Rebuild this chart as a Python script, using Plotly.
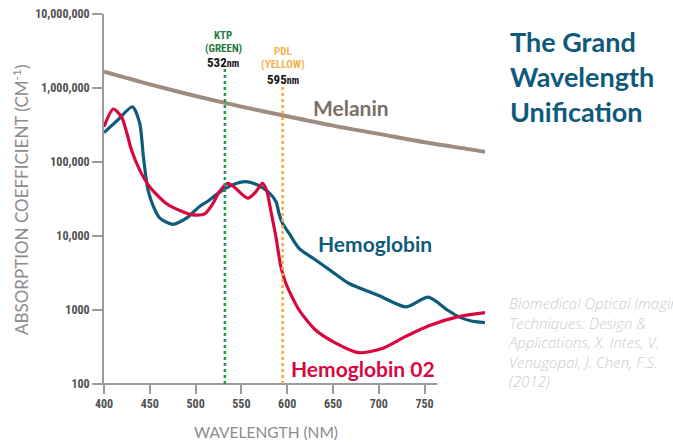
import plotly.graph_objects as go

# ---------------- data ----------------
melanin_wl = [400, 450, 500, 550, 600, 650, 700, 750, 800, 816]
melanin_val = [1660000, 1120000, 780000, 560000, 415000, 310000, 240000, 185000, 148000, 137000]

hb_wl = [400, 415, 431, 439, 443, 448, 454, 461, 475, 490, 504, 512, 526, 540, 555, 566, 579,
         588, 591, 595, 602, 613, 631, 649, 667, 700, 730, 754, 775, 787, 800, 816]
hb_val = [250000, 370000, 558000, 334000, 118000, 42000, 25000, 17400, 14400, 17400, 24900,
          28800, 38900, 49000, 54200, 50000, 39800, 28800, 20300, 14800, 10900, 6800, 4740,
          3300, 2300, 1570, 1100, 1490, 1000, 813, 716, 673]

hbo2_wl = [400, 410, 419, 425, 430, 439, 450, 468, 486, 497, 510, 519, 526, 535, 542, 557, 566,
           573, 577.5, 582, 587.7, 593, 598.5, 613, 631, 653, 678, 704, 729, 754, 787, 816]
hbo2_val = [300000, 520000, 410000, 244000, 145000, 77600, 46000, 27500, 21300, 19300, 19900,
            27500, 39800, 51600, 46000, 32400, 39800, 51600, 41800, 22300, 9800, 3900, 2300,
            1000, 537, 357, 265, 302, 436, 608, 813, 920]

laser_wl = [532, 595]
laser_names = ["KTP", "PDL"]
laser_colors_names = ["(GREEN)", "(YELLOW)"]
laser_labels = ["532", "595"]

x_ticks = [400, 450, 500, 550, 600, 650, 700, 750]
y_ticks = [100, 1000, 10000, 100000, 1000000, 10000000]
y_ticktext = ["100", "1000", "10,000", "100,000", "1,000,000", "10,000,000"]

X_RANGE = [400, 816]

# ---------------- style ----------------
BLUE = "#0f5b7c"
RED = "#d8073f"
MEL = "#9e8c80"
MEL_TXT = "#7b6f67"
GREEN = "#17a14b"
GREEN_TXT = "#1f7a44"
ORANGE = "#f6a83c"
ORANGE_TXT = "#f7b24e"
AX = "#9b9b9b"
COND = "Roboto Condensed, Liberation Sans Narrow, Roboto, sans-serif"
TICKFONT = dict(family=COND, size=12, color="#505050", weight="bold")
LABELFONT = "Lato, Roboto, sans-serif"

W, H = 673, 444
L, R, T, B = 104, 188, 14, 60
pw, ph = W - L - R, H - T - B

fig = go.Figure()
fig.add_trace(go.Scatter(x=melanin_wl, y=melanin_val, mode="lines",
                         line=dict(color=MEL, width=4, shape="spline", smoothing=0.8)))
fig.add_trace(go.Scatter(x=hb_wl, y=hb_val, mode="lines",
                         line=dict(color=BLUE, width=3.2, shape="spline", smoothing=0.7)))
fig.add_trace(go.Scatter(x=hbo2_wl, y=hbo2_val, mode="lines",
                         line=dict(color=RED, width=3.2, shape="spline", smoothing=0.7)))


def xpaper(v):
    return (v - X_RANGE[0]) / (X_RANGE[1] - X_RANGE[0])


def py(pix):
    return 1 - (pix - T) / ph


def px(pix):
    return (pix - L) / pw


# x axis line (ends after last tick, starts at y tick end)
fig.add_shape(type="line", xref="paper", yref="paper", x0=-10 / pw, x1=xpaper(764), y0=0, y1=0,
              line=dict(color=AX, width=2))

# laser lines
fig.add_shape(type="line", xref="x", yref="paper", x0=laser_wl[0], x1=laser_wl[0], y0=0, y1=py(66),
              line=dict(color=GREEN, width=2.5, dash="dot"))
fig.add_shape(type="line", xref="x", yref="paper", x0=laser_wl[1], x1=laser_wl[1], y0=0, y1=py(82),
              line=dict(color=ORANGE, width=2.5, dash="dot"))

ann = []
# KTP
ann.append(dict(x=laser_wl[0] - 2, y=py(27), xref="x", yref="paper", text=laser_names[0],
                font=dict(family=COND, size=11, color=GREEN_TXT, weight="bold"), showarrow=False))
ann.append(dict(x=laser_wl[0] - 2, y=py(40), xref="x", yref="paper", text=laser_colors_names[0],
                font=dict(family=COND, size=11, color=GREEN_TXT, weight="bold"), showarrow=False))
ann.append(dict(x=laser_wl[0] - 2, y=py(53), xref="x", yref="paper",
                text=laser_labels[0] + "<span style='font-size:10px'>nm</span>",
                font=dict(family=COND, size=13, color="#111111", weight="bold"), showarrow=False))
# PDL
ann.append(dict(x=laser_wl[1], y=py(43), xref="x", yref="paper", text=laser_names[1],
                font=dict(family=COND, size=11, color=ORANGE_TXT, weight="bold"), showarrow=False))
ann.append(dict(x=laser_wl[1], y=py(56), xref="x", yref="paper", text=laser_colors_names[1],
                font=dict(family=COND, size=11, color=ORANGE_TXT, weight="bold"), showarrow=False))
ann.append(dict(x=laser_wl[1], y=py(70), xref="x", yref="paper",
                text=laser_labels[1] + "<span style='font-size:10px'>nm</span>",
                font=dict(family=COND, size=13, color="#111111", weight="bold"), showarrow=False))

# series labels
ann.append(dict(x=px(311), y=py(107), xref="paper", yref="paper", text="Melanin", xanchor="left",
                yanchor="middle", font=dict(family=LABELFONT, size=21, color=MEL_TXT, weight="bold"),
                showarrow=False))
ann.append(dict(x=px(316), y=py(243), xref="paper", yref="paper", text="Hemoglobin",
                xanchor="left", yanchor="middle",
                font=dict(family=LABELFONT, size=21, color=BLUE, weight="bold"), showarrow=False))
ann.append(dict(x=px(289), y=py(368), xref="paper", yref="paper", text="Hemoglobin 02",
                xanchor="left", yanchor="middle",
                font=dict(family=LABELFONT, size=21, color=RED, weight="bold"), showarrow=False))

# title
ann.append(dict(x=px(508), y=py(76), xref="paper", yref="paper",
                text="The Grand<br>Wavelength<br>Unification", xanchor="left",
                yanchor="middle", align="left",
                font=dict(family=LABELFONT, size=27, color="#0e5a7a", weight="bold"), showarrow=False))
# citation
ann.append(dict(x=px(506), y=py(342), xref="paper", yref="paper",
                text="Biomedical Optical Imaging<br>Techniques: Design &amp;<br>"
                "Applications, X. Intes, V.<br>Venugopal, J. Chen, F.S.<br>(2012)",
                xanchor="left", yanchor="middle", align="left",
                font=dict(family="Open Sans, Lato, sans-serif", size=15, color="#cccccc",
                          style="italic", weight=300), showarrow=False))
# axis titles
ann.append(dict(x=px(266), y=py(432), xref="paper", yref="paper", text="WAVELENGTH (NM)",
                xanchor="center", yanchor="middle",
                font=dict(family="Lato, Roboto, sans-serif", size=15.5, color="#8c8c8c"),
                showarrow=False))
ann.append(dict(x=px(20), y=py(200), xref="paper", yref="paper",
                text="ABSORPTION COEFFICIENT (CM<sup>-1</sup>)", textangle=-90,
                xanchor="center", yanchor="middle",
                font=dict(family="Lato, Roboto, sans-serif", size=17, color="#8c8c8c"),
                showarrow=False))

fig.update_layout(
    width=W, height=H, margin=dict(l=L, r=R, t=T, b=B, autoexpand=False),
    paper_bgcolor="white", plot_bgcolor="white", showlegend=False,
    annotations=ann,
    xaxis=dict(range=X_RANGE, tickvals=x_ticks, showgrid=False, zeroline=False, showline=False,
               ticks="outside", ticklen=9, tickwidth=2, tickcolor=AX, tickfont=TICKFONT,
               automargin=False),
    yaxis=dict(type="log", range=[2, 7], tickvals=y_ticks, ticktext=y_ticktext, showgrid=False,
               zeroline=False, showline=True, linecolor=AX, linewidth=2,
               ticks="outside", ticklen=10, tickwidth=2, tickcolor=AX, tickfont=TICKFONT,
               automargin=False),
)

fig.write_html("out.html", config={"displayModeBar": False},
               post_script="document.body.style.margin='0';document.body.style.padding='0';")
